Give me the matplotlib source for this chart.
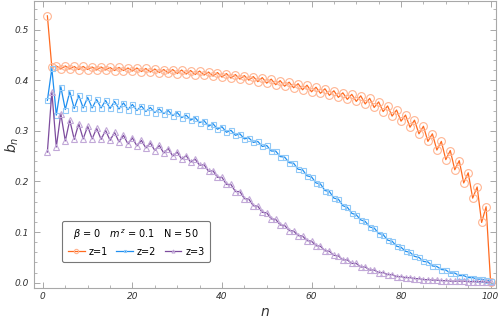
import numpy as np
import matplotlib
matplotlib.use('Agg')
import matplotlib.pyplot as plt
from matplotlib.ticker import MultipleLocator, FormatStrFormatter

n = np.arange(1, 101)

b_z1 = [0.527, 0.425, 0.428, 0.422, 0.428, 0.422, 0.427, 0.421, 0.427, 0.421,
        0.426, 0.420, 0.426, 0.420, 0.425, 0.419, 0.425, 0.419, 0.424, 0.418,
        0.424, 0.417, 0.423, 0.416, 0.422, 0.415, 0.421, 0.414, 0.421, 0.413,
        0.420, 0.412, 0.419, 0.411, 0.418, 0.410, 0.416, 0.408, 0.415, 0.406,
        0.413, 0.404, 0.411, 0.402, 0.409, 0.400, 0.407, 0.397, 0.405, 0.394,
        0.402, 0.391, 0.399, 0.388, 0.396, 0.385, 0.393, 0.381, 0.390, 0.377,
        0.386, 0.374, 0.383, 0.370, 0.379, 0.366, 0.375, 0.362, 0.372, 0.358,
        0.369, 0.353, 0.364, 0.346, 0.357, 0.338, 0.349, 0.329, 0.341, 0.319,
        0.331, 0.307, 0.321, 0.294, 0.309, 0.279, 0.294, 0.262, 0.279, 0.243,
        0.261, 0.223, 0.241, 0.197, 0.217, 0.167, 0.189, 0.119, 0.150, 0.002]

b_z2 = [0.360, 0.423, 0.331, 0.387, 0.342, 0.377, 0.344, 0.370, 0.345, 0.366,
        0.345, 0.362, 0.345, 0.360, 0.344, 0.358, 0.343, 0.355, 0.342, 0.352,
        0.340, 0.349, 0.338, 0.346, 0.336, 0.343, 0.334, 0.340, 0.330, 0.336,
        0.326, 0.331, 0.321, 0.326, 0.316, 0.320, 0.309, 0.314, 0.303, 0.308,
        0.297, 0.301, 0.291, 0.294, 0.284, 0.286, 0.277, 0.279, 0.269, 0.271,
        0.260, 0.260, 0.249, 0.248, 0.237, 0.236, 0.224, 0.223, 0.211, 0.209,
        0.197, 0.195, 0.182, 0.180, 0.167, 0.165, 0.152, 0.149, 0.137, 0.134,
        0.124, 0.121, 0.110, 0.108, 0.097, 0.095, 0.084, 0.082, 0.072, 0.070,
        0.062, 0.060, 0.052, 0.050, 0.042, 0.041, 0.033, 0.032, 0.026, 0.025,
        0.019, 0.019, 0.014, 0.014, 0.010, 0.010, 0.007, 0.007, 0.005, 0.004]

b_z3 = [0.258, 0.377, 0.268, 0.334, 0.280, 0.321, 0.283, 0.314, 0.284, 0.309,
        0.284, 0.305, 0.283, 0.301, 0.281, 0.297, 0.278, 0.291, 0.274, 0.286,
        0.270, 0.281, 0.266, 0.276, 0.261, 0.271, 0.256, 0.265, 0.250, 0.258,
        0.244, 0.251, 0.238, 0.244, 0.232, 0.233, 0.220, 0.221, 0.208, 0.208,
        0.194, 0.194, 0.180, 0.180, 0.166, 0.165, 0.152, 0.151, 0.139, 0.138,
        0.126, 0.125, 0.114, 0.113, 0.103, 0.102, 0.093, 0.092, 0.083, 0.082,
        0.073, 0.072, 0.063, 0.062, 0.054, 0.053, 0.045, 0.045, 0.038, 0.038,
        0.031, 0.031, 0.025, 0.025, 0.020, 0.020, 0.016, 0.016, 0.012, 0.012,
        0.010, 0.010, 0.008, 0.008, 0.006, 0.006, 0.005, 0.005, 0.004, 0.004,
        0.003, 0.003, 0.003, 0.003, 0.002, 0.002, 0.002, 0.002, 0.001, 0.001]

series = [
    ('z=1', b_z1, '#ff6a1f', '#ffb592', 'o', 5.6),
    ('z=2', b_z2, '#1e8ff0', '#92c9f7', 's', 3.6),
    ('z=3', b_z3, '#7d4c9e', '#c2a9d8', '^', 4.0),
]

fig = plt.figure(figsize=(5.0, 3.21), dpi=100)
ax = fig.add_axes([0.067, 0.102, 0.924, 0.896])

for label, vals, lc, mc, mk, ms in series:
    ax.plot(n, vals, color=lc, lw=0.9, marker=mk, ms=ms, mfc='none',
            mec=mc, mew=0.8, label=label)

ax.set_xlim(-2.1, 101.1)
ax.set_ylim(-0.011, 0.557)

ax.xaxis.set_major_locator(MultipleLocator(20))
ax.xaxis.set_minor_locator(MultipleLocator(5))
ax.yaxis.set_major_locator(MultipleLocator(0.1))
ax.yaxis.set_minor_locator(MultipleLocator(0.02))
ax.yaxis.set_major_formatter(FormatStrFormatter('%.1f'))

frame = '#a8a8a8'
for s in ax.spines.values():
    s.set_color(frame)
    s.set_linewidth(0.8)
ax.tick_params(which='both', direction='in', top=True, right=True,
               color=frame, labelsize=6.5, labelcolor='#333333')
ax.tick_params(which='major', length=4, width=0.7, pad=3)
ax.tick_params(which='minor', length=2.2, width=0.6)
for t in ax.get_xticklabels() + ax.get_yticklabels():
    t.set_fontstyle('italic')

ax.set_xlabel('$n$', fontsize=10, color='#333333')
ax.set_ylabel('$b_n$', fontsize=10, color='#333333')
ax.xaxis.set_label_coords(0.502, -0.058)
ax.yaxis.set_label_coords(-0.028, 0.5)

leg = ax.legend(loc='lower left', bbox_to_anchor=(0.062, 0.09), ncol=3,
                title=r'$\beta$ = 0   $m^{\,z}$ = 0.1   N = 50',
                fontsize=7, title_fontsize=7, frameon=True, fancybox=True,
                handlelength=1.7, handletextpad=0.4, columnspacing=0.9,
                borderpad=0.6, borderaxespad=0, markerscale=0.55)
leg.get_frame().set_edgecolor('#555555')
leg.get_frame().set_linewidth(0.8)

fig.savefig('out.png', dpi=100)
